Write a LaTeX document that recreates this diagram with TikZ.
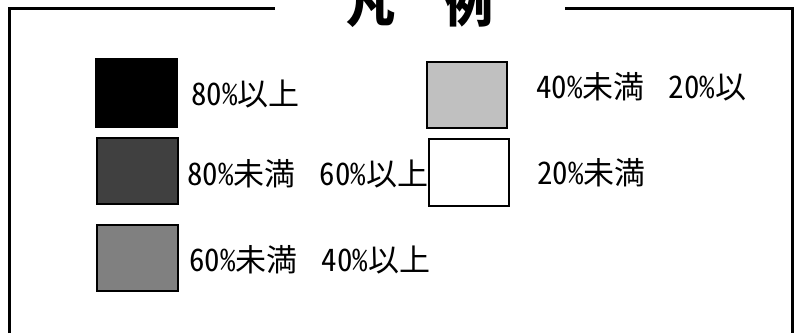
\documentclass[tikz,border=0pt]{standalone}
\usepackage{fontspec}
\newfontfamily\jp[RawFeature=+hwid]{Noto Sans CJK JP}
\newfontfamily\jpt{Noto Sans CJK JP}
\begin{document}
\begin{tikzpicture}[x=1pt,y=-1pt,
  frame/.style={line width=3.5pt},
  swatch/.style={draw=black,line width=1.2pt},
  lbl/.style={anchor=base west,inner sep=0pt,font=\jp\fontsize{31}{37}\selectfont},
  ttl/.style={anchor=base,inner sep=0pt,font=\jpt\bfseries\fontsize{49}{58}\selectfont}]
\useasboundingbox (0,0) rectangle (799,333);
\fill[white] (0,0) rectangle (799,333);
% frame
\coordinate (bl) at (9.5,333);
\coordinate (tl) at (9.5,8.7);
\coordinate (tlend) at (275,8.7);
\coordinate (trstart) at (565,8.7);
\coordinate (tr) at (792.5,8.7);
\coordinate (br) at (792.5,333);
\draw[frame] (bl) -- (tl) -- (tlend);
\draw[frame] (trstart) -- (tr) -- (br);
% title
\node[ttl] (title) at (420,22) {凡\hspace{49pt}例};
% swatches
\draw[swatch,fill=black] (96,59) rectangle (177,127);
\draw[swatch,fill={rgb,255:red,64;green,64;blue,64}] (97,138) rectangle (178,204);
\draw[swatch,fill={rgb,255:red,128;green,128;blue,128}] (97,225) rectangle (178,291);
\draw[swatch,fill={rgb,255:red,192;green,192;blue,192}] (427,62) rectangle (507,128);
\draw[swatch,fill=white] (429,139) rectangle (509,206);
% labels
\node[lbl] (t1) at (191,105) {80\%以上};
\node[lbl] (t2) at (187,185) {80\%未満\hspace{24pt}60\%以上};
\node[lbl] (t3) at (189,271) {60\%未満\hspace{24pt}40\%以上};
\node[lbl] (t4) at (536,98) {40\%未満\hspace{24pt}20\%以};
\node[lbl] (t5) at (537,184) {20\%未満};
\end{tikzpicture}
\end{document}
